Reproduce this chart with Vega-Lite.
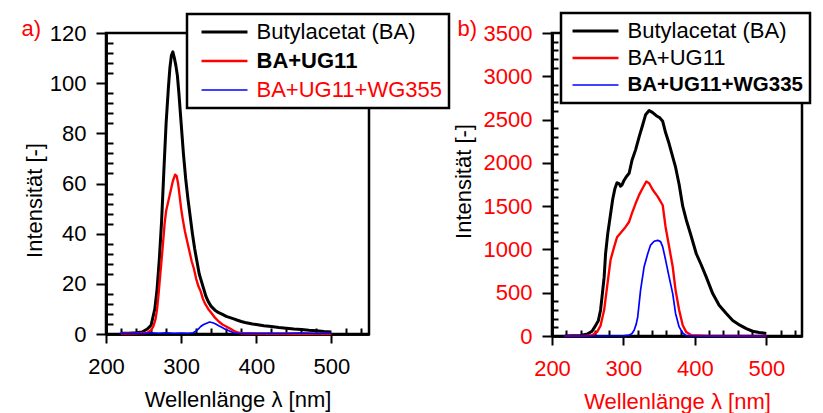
{
  "$schema": "https://vega.github.io/schema/vega-lite/v6.json",
  "padding": {"left": 19, "top": 10, "right": 0, "bottom": 0},
  "config": {
    "font": "Liberation Sans",
    "view": {"stroke": "black", "strokeWidth": 2.5},
    "axis": {
      "grid": false,
      "labelFlush": false,
      "labelOverlap": false,
      "domainColor": "black",
      "domainWidth": 2.5,
      "tickColor": "black",
      "tickWidth": 2,
      "labelFont": "Liberation Sans",
      "labelFontSize": 22,
      "labelColor": "black",
      "titleFont": "Liberation Sans",
      "titleFontSize": 22,
      "titleFontWeight": "normal",
      "titleColor": "black"
    },
    "legend": {
      "labelFont": "Liberation Sans",
      "labelFontSize": 22,
      "labelLimit": 400,
      "symbolType": "M-4,0H4",
      "symbolSize": 132,
      "symbolStrokeWidth": 1.5,
      "labelOffset": 21
    }
  },
  "datasets": {
    "a": [
      {"serie": "Butylacetat (BA)", "wl": 220, "I": 0.3},
      {"serie": "Butylacetat (BA)", "wl": 230, "I": 0.3},
      {"serie": "Butylacetat (BA)", "wl": 240, "I": 0.5},
      {"serie": "Butylacetat (BA)", "wl": 248, "I": 0.8},
      {"serie": "Butylacetat (BA)", "wl": 255, "I": 2},
      {"serie": "Butylacetat (BA)", "wl": 260, "I": 3.5},
      {"serie": "Butylacetat (BA)", "wl": 265, "I": 10},
      {"serie": "Butylacetat (BA)", "wl": 268, "I": 18},
      {"serie": "Butylacetat (BA)", "wl": 271, "I": 30},
      {"serie": "Butylacetat (BA)", "wl": 274, "I": 45},
      {"serie": "Butylacetat (BA)", "wl": 277, "I": 65},
      {"serie": "Butylacetat (BA)", "wl": 280, "I": 84},
      {"serie": "Butylacetat (BA)", "wl": 283, "I": 98},
      {"serie": "Butylacetat (BA)", "wl": 285, "I": 106},
      {"serie": "Butylacetat (BA)", "wl": 287, "I": 111},
      {"serie": "Butylacetat (BA)", "wl": 289, "I": 112.5},
      {"serie": "Butylacetat (BA)", "wl": 291, "I": 110},
      {"serie": "Butylacetat (BA)", "wl": 293, "I": 107},
      {"serie": "Butylacetat (BA)", "wl": 295, "I": 103},
      {"serie": "Butylacetat (BA)", "wl": 297, "I": 96},
      {"serie": "Butylacetat (BA)", "wl": 299, "I": 88},
      {"serie": "Butylacetat (BA)", "wl": 301, "I": 80},
      {"serie": "Butylacetat (BA)", "wl": 303, "I": 72},
      {"serie": "Butylacetat (BA)", "wl": 306, "I": 62},
      {"serie": "Butylacetat (BA)", "wl": 309, "I": 54},
      {"serie": "Butylacetat (BA)", "wl": 312, "I": 47},
      {"serie": "Butylacetat (BA)", "wl": 315, "I": 40},
      {"serie": "Butylacetat (BA)", "wl": 318, "I": 34},
      {"serie": "Butylacetat (BA)", "wl": 321, "I": 29},
      {"serie": "Butylacetat (BA)", "wl": 324, "I": 24},
      {"serie": "Butylacetat (BA)", "wl": 327, "I": 21},
      {"serie": "Butylacetat (BA)", "wl": 330, "I": 18},
      {"serie": "Butylacetat (BA)", "wl": 333, "I": 15},
      {"serie": "Butylacetat (BA)", "wl": 336, "I": 13},
      {"serie": "Butylacetat (BA)", "wl": 340, "I": 11},
      {"serie": "Butylacetat (BA)", "wl": 345, "I": 9.5},
      {"serie": "Butylacetat (BA)", "wl": 350, "I": 8.5},
      {"serie": "Butylacetat (BA)", "wl": 355, "I": 7.8},
      {"serie": "Butylacetat (BA)", "wl": 360, "I": 7},
      {"serie": "Butylacetat (BA)", "wl": 365, "I": 6.5},
      {"serie": "Butylacetat (BA)", "wl": 370, "I": 6},
      {"serie": "Butylacetat (BA)", "wl": 375, "I": 5.5},
      {"serie": "Butylacetat (BA)", "wl": 380, "I": 5},
      {"serie": "Butylacetat (BA)", "wl": 385, "I": 4.6},
      {"serie": "Butylacetat (BA)", "wl": 390, "I": 4.3},
      {"serie": "Butylacetat (BA)", "wl": 395, "I": 4},
      {"serie": "Butylacetat (BA)", "wl": 400, "I": 3.8},
      {"serie": "Butylacetat (BA)", "wl": 410, "I": 3.3},
      {"serie": "Butylacetat (BA)", "wl": 420, "I": 3},
      {"serie": "Butylacetat (BA)", "wl": 430, "I": 2.6},
      {"serie": "Butylacetat (BA)", "wl": 440, "I": 2.3},
      {"serie": "Butylacetat (BA)", "wl": 450, "I": 2},
      {"serie": "Butylacetat (BA)", "wl": 460, "I": 1.8},
      {"serie": "Butylacetat (BA)", "wl": 470, "I": 1.5},
      {"serie": "Butylacetat (BA)", "wl": 480, "I": 1.3},
      {"serie": "Butylacetat (BA)", "wl": 490, "I": 1},
      {"serie": "Butylacetat (BA)", "wl": 500, "I": 0.8},
      {"serie": "BA+UG11", "wl": 220, "I": 0.2},
      {"serie": "BA+UG11", "wl": 240, "I": 0.3},
      {"serie": "BA+UG11", "wl": 255, "I": 0.5},
      {"serie": "BA+UG11", "wl": 260, "I": 1.5},
      {"serie": "BA+UG11", "wl": 263, "I": 3},
      {"serie": "BA+UG11", "wl": 266, "I": 6},
      {"serie": "BA+UG11", "wl": 268, "I": 10},
      {"serie": "BA+UG11", "wl": 270, "I": 16},
      {"serie": "BA+UG11", "wl": 272, "I": 23},
      {"serie": "BA+UG11", "wl": 275, "I": 33},
      {"serie": "BA+UG11", "wl": 278, "I": 44},
      {"serie": "BA+UG11", "wl": 280, "I": 49},
      {"serie": "BA+UG11", "wl": 283, "I": 53},
      {"serie": "BA+UG11", "wl": 286, "I": 57},
      {"serie": "BA+UG11", "wl": 289, "I": 61},
      {"serie": "BA+UG11", "wl": 292, "I": 63.5},
      {"serie": "BA+UG11", "wl": 294, "I": 63},
      {"serie": "BA+UG11", "wl": 296, "I": 60},
      {"serie": "BA+UG11", "wl": 298, "I": 55},
      {"serie": "BA+UG11", "wl": 300, "I": 50},
      {"serie": "BA+UG11", "wl": 302, "I": 46},
      {"serie": "BA+UG11", "wl": 305, "I": 41},
      {"serie": "BA+UG11", "wl": 308, "I": 37},
      {"serie": "BA+UG11", "wl": 311, "I": 33},
      {"serie": "BA+UG11", "wl": 314, "I": 29},
      {"serie": "BA+UG11", "wl": 317, "I": 26},
      {"serie": "BA+UG11", "wl": 320, "I": 22},
      {"serie": "BA+UG11", "wl": 323, "I": 19},
      {"serie": "BA+UG11", "wl": 326, "I": 17},
      {"serie": "BA+UG11", "wl": 329, "I": 14},
      {"serie": "BA+UG11", "wl": 332, "I": 12},
      {"serie": "BA+UG11", "wl": 336, "I": 10},
      {"serie": "BA+UG11", "wl": 340, "I": 8.5},
      {"serie": "BA+UG11", "wl": 345, "I": 6.5},
      {"serie": "BA+UG11", "wl": 350, "I": 5},
      {"serie": "BA+UG11", "wl": 355, "I": 3.8},
      {"serie": "BA+UG11", "wl": 360, "I": 3},
      {"serie": "BA+UG11", "wl": 365, "I": 2.2},
      {"serie": "BA+UG11", "wl": 370, "I": 1.3},
      {"serie": "BA+UG11", "wl": 375, "I": 0.6},
      {"serie": "BA+UG11", "wl": 380, "I": 0.3},
      {"serie": "BA+UG11", "wl": 390, "I": 0.2},
      {"serie": "BA+UG11", "wl": 400, "I": 0.2},
      {"serie": "BA+UG11", "wl": 420, "I": 0.1},
      {"serie": "BA+UG11", "wl": 450, "I": 0.2},
      {"serie": "BA+UG11", "wl": 480, "I": 0.1},
      {"serie": "BA+UG11", "wl": 500, "I": 0.1},
      {"serie": "BA+UG11+WG355", "wl": 218, "I": 0.3},
      {"serie": "BA+UG11+WG355", "wl": 230, "I": 0.2},
      {"serie": "BA+UG11+WG355", "wl": 240, "I": 0.4},
      {"serie": "BA+UG11+WG355", "wl": 250, "I": 0.2},
      {"serie": "BA+UG11+WG355", "wl": 260, "I": 0.5},
      {"serie": "BA+UG11+WG355", "wl": 270, "I": 0.3},
      {"serie": "BA+UG11+WG355", "wl": 280, "I": 0.5},
      {"serie": "BA+UG11+WG355", "wl": 290, "I": 0.3},
      {"serie": "BA+UG11+WG355", "wl": 300, "I": 0.4},
      {"serie": "BA+UG11+WG355", "wl": 310, "I": 0.3},
      {"serie": "BA+UG11+WG355", "wl": 316, "I": 0.5},
      {"serie": "BA+UG11+WG355", "wl": 320, "I": 1.2},
      {"serie": "BA+UG11+WG355", "wl": 323, "I": 2},
      {"serie": "BA+UG11+WG355", "wl": 326, "I": 3},
      {"serie": "BA+UG11+WG355", "wl": 330, "I": 3.8},
      {"serie": "BA+UG11+WG355", "wl": 334, "I": 4.3},
      {"serie": "BA+UG11+WG355", "wl": 338, "I": 4.8},
      {"serie": "BA+UG11+WG355", "wl": 342, "I": 4.5},
      {"serie": "BA+UG11+WG355", "wl": 346, "I": 4},
      {"serie": "BA+UG11+WG355", "wl": 350, "I": 3.3},
      {"serie": "BA+UG11+WG355", "wl": 354, "I": 2.7},
      {"serie": "BA+UG11+WG355", "wl": 358, "I": 2},
      {"serie": "BA+UG11+WG355", "wl": 362, "I": 1.5},
      {"serie": "BA+UG11+WG355", "wl": 366, "I": 1},
      {"serie": "BA+UG11+WG355", "wl": 370, "I": 0.5},
      {"serie": "BA+UG11+WG355", "wl": 375, "I": 0.3},
      {"serie": "BA+UG11+WG355", "wl": 380, "I": 0.2},
      {"serie": "BA+UG11+WG355", "wl": 390, "I": 0.3},
      {"serie": "BA+UG11+WG355", "wl": 400, "I": 0.2},
      {"serie": "BA+UG11+WG355", "wl": 420, "I": 0.3},
      {"serie": "BA+UG11+WG355", "wl": 440, "I": 0.2},
      {"serie": "BA+UG11+WG355", "wl": 460, "I": 0.4},
      {"serie": "BA+UG11+WG355", "wl": 480, "I": 0.2},
      {"serie": "BA+UG11+WG355", "wl": 500, "I": 0.3}
    ],
    "b": [
      {"serie": "Butylacetat (BA)", "wl": 218, "I": 0},
      {"serie": "Butylacetat (BA)", "wl": 240, "I": 5},
      {"serie": "Butylacetat (BA)", "wl": 250, "I": 25},
      {"serie": "Butylacetat (BA)", "wl": 256, "I": 55},
      {"serie": "Butylacetat (BA)", "wl": 261, "I": 120},
      {"serie": "Butylacetat (BA)", "wl": 265, "I": 180},
      {"serie": "Butylacetat (BA)", "wl": 268, "I": 300},
      {"serie": "Butylacetat (BA)", "wl": 270, "I": 450},
      {"serie": "Butylacetat (BA)", "wl": 273, "I": 680},
      {"serie": "Butylacetat (BA)", "wl": 275, "I": 950},
      {"serie": "Butylacetat (BA)", "wl": 278, "I": 1180},
      {"serie": "Butylacetat (BA)", "wl": 282, "I": 1410},
      {"serie": "Butylacetat (BA)", "wl": 285, "I": 1580},
      {"serie": "Butylacetat (BA)", "wl": 288, "I": 1700},
      {"serie": "Butylacetat (BA)", "wl": 291, "I": 1770},
      {"serie": "Butylacetat (BA)", "wl": 294, "I": 1760},
      {"serie": "Butylacetat (BA)", "wl": 296, "I": 1730},
      {"serie": "Butylacetat (BA)", "wl": 298, "I": 1745},
      {"serie": "Butylacetat (BA)", "wl": 301, "I": 1800},
      {"serie": "Butylacetat (BA)", "wl": 304, "I": 1840},
      {"serie": "Butylacetat (BA)", "wl": 308, "I": 1880},
      {"serie": "Butylacetat (BA)", "wl": 312, "I": 2030},
      {"serie": "Butylacetat (BA)", "wl": 317, "I": 2150},
      {"serie": "Butylacetat (BA)", "wl": 322, "I": 2300},
      {"serie": "Butylacetat (BA)", "wl": 327, "I": 2440},
      {"serie": "Butylacetat (BA)", "wl": 331, "I": 2555},
      {"serie": "Butylacetat (BA)", "wl": 336, "I": 2605},
      {"serie": "Butylacetat (BA)", "wl": 341, "I": 2580},
      {"serie": "Butylacetat (BA)", "wl": 346, "I": 2545},
      {"serie": "Butylacetat (BA)", "wl": 351, "I": 2520},
      {"serie": "Butylacetat (BA)", "wl": 355, "I": 2480},
      {"serie": "Butylacetat (BA)", "wl": 359, "I": 2350},
      {"serie": "Butylacetat (BA)", "wl": 364, "I": 2220},
      {"serie": "Butylacetat (BA)", "wl": 369, "I": 2070},
      {"serie": "Butylacetat (BA)", "wl": 373, "I": 1950},
      {"serie": "Butylacetat (BA)", "wl": 378, "I": 1750},
      {"serie": "Butylacetat (BA)", "wl": 383, "I": 1500},
      {"serie": "Butylacetat (BA)", "wl": 388, "I": 1340},
      {"serie": "Butylacetat (BA)", "wl": 395, "I": 1150},
      {"serie": "Butylacetat (BA)", "wl": 402, "I": 950},
      {"serie": "Butylacetat (BA)", "wl": 409, "I": 820},
      {"serie": "Butylacetat (BA)", "wl": 416, "I": 680},
      {"serie": "Butylacetat (BA)", "wl": 425, "I": 490},
      {"serie": "Butylacetat (BA)", "wl": 434, "I": 355},
      {"serie": "Butylacetat (BA)", "wl": 444, "I": 260},
      {"serie": "Butylacetat (BA)", "wl": 453, "I": 180},
      {"serie": "Butylacetat (BA)", "wl": 463, "I": 125},
      {"serie": "Butylacetat (BA)", "wl": 472, "I": 85},
      {"serie": "Butylacetat (BA)", "wl": 481, "I": 55},
      {"serie": "Butylacetat (BA)", "wl": 490, "I": 40},
      {"serie": "Butylacetat (BA)", "wl": 500, "I": 30},
      {"serie": "BA+UG11", "wl": 218, "I": 0},
      {"serie": "BA+UG11", "wl": 245, "I": 2},
      {"serie": "BA+UG11", "wl": 256, "I": 10},
      {"serie": "BA+UG11", "wl": 263, "I": 45},
      {"serie": "BA+UG11", "wl": 268, "I": 120},
      {"serie": "BA+UG11", "wl": 273, "I": 300},
      {"serie": "BA+UG11", "wl": 277, "I": 560},
      {"serie": "BA+UG11", "wl": 282, "I": 880},
      {"serie": "BA+UG11", "wl": 287, "I": 1030},
      {"serie": "BA+UG11", "wl": 291, "I": 1140},
      {"serie": "BA+UG11", "wl": 296, "I": 1190},
      {"serie": "BA+UG11", "wl": 303, "I": 1260},
      {"serie": "BA+UG11", "wl": 308, "I": 1320},
      {"serie": "BA+UG11", "wl": 312, "I": 1420},
      {"serie": "BA+UG11", "wl": 317, "I": 1530},
      {"serie": "BA+UG11", "wl": 322, "I": 1630},
      {"serie": "BA+UG11", "wl": 327, "I": 1710},
      {"serie": "BA+UG11", "wl": 332, "I": 1785},
      {"serie": "BA+UG11", "wl": 336, "I": 1765},
      {"serie": "BA+UG11", "wl": 341, "I": 1690},
      {"serie": "BA+UG11", "wl": 348, "I": 1610},
      {"serie": "BA+UG11", "wl": 355, "I": 1510},
      {"serie": "BA+UG11", "wl": 359, "I": 1260},
      {"serie": "BA+UG11", "wl": 364, "I": 1030},
      {"serie": "BA+UG11", "wl": 369, "I": 800},
      {"serie": "BA+UG11", "wl": 373, "I": 530},
      {"serie": "BA+UG11", "wl": 378, "I": 300},
      {"serie": "BA+UG11", "wl": 383, "I": 125},
      {"serie": "BA+UG11", "wl": 388, "I": 45},
      {"serie": "BA+UG11", "wl": 395, "I": 10},
      {"serie": "BA+UG11", "wl": 420, "I": 2},
      {"serie": "BA+UG11", "wl": 500, "I": 0},
      {"serie": "BA+UG11+WG335", "wl": 216, "I": 0},
      {"serie": "BA+UG11+WG335", "wl": 250, "I": 0},
      {"serie": "BA+UG11+WG335", "wl": 300, "I": 3},
      {"serie": "BA+UG11+WG335", "wl": 308, "I": 10},
      {"serie": "BA+UG11+WG335", "wl": 312, "I": 30},
      {"serie": "BA+UG11+WG335", "wl": 315, "I": 66},
      {"serie": "BA+UG11+WG335", "wl": 318, "I": 140},
      {"serie": "BA+UG11+WG335", "wl": 320, "I": 220},
      {"serie": "BA+UG11+WG335", "wl": 324, "I": 530},
      {"serie": "BA+UG11+WG335", "wl": 329, "I": 800},
      {"serie": "BA+UG11+WG335", "wl": 334, "I": 950},
      {"serie": "BA+UG11+WG335", "wl": 338, "I": 1050},
      {"serie": "BA+UG11+WG335", "wl": 343, "I": 1095},
      {"serie": "BA+UG11+WG335", "wl": 348, "I": 1105},
      {"serie": "BA+UG11+WG335", "wl": 352, "I": 1090},
      {"serie": "BA+UG11+WG335", "wl": 355, "I": 1030},
      {"serie": "BA+UG11+WG335", "wl": 359, "I": 880},
      {"serie": "BA+UG11+WG335", "wl": 364, "I": 680},
      {"serie": "BA+UG11+WG335", "wl": 369, "I": 490},
      {"serie": "BA+UG11+WG335", "wl": 373, "I": 260},
      {"serie": "BA+UG11+WG335", "wl": 378, "I": 105},
      {"serie": "BA+UG11+WG335", "wl": 383, "I": 35},
      {"serie": "BA+UG11+WG335", "wl": 388, "I": 5},
      {"serie": "BA+UG11+WG335", "wl": 400, "I": 0},
      {"serie": "BA+UG11+WG335", "wl": 450, "I": 0},
      {"serie": "BA+UG11+WG335", "wl": 500, "I": 0}
    ]
  },
  "bounds": "flush",
  "spacing": 183,
  "resolve": {
    "scale": {"color": "independent", "strokeWidth": "independent"},
    "legend": {"color": "independent"}
  },
  "hconcat": [
    {
      "width": 263,
      "height": 301,
      "data": {"name": "a"},
      "resolve": {"axis": {"x": "independent", "y": "independent"}},
      "layer": [
        {
          "mark": {"type": "line", "strokeJoin": "round"},
          "encoding": {
            "x": {"field": "wl", "type": "quantitative", "scale": {"domain": [200, 550], "nice": false},
              "axis": {"orient": "bottom", "values": [200, 300, 400, 500], "tickSize": 9, "labelPadding": 13.5, "title": "Wellenlänge λ [nm]", "titlePadding": 11.5}},
            "y": {"field": "I", "type": "quantitative", "scale": {"domain": [0, 120], "nice": false},
              "axis": {"orient": "left", "values": [0, 20, 40, 60, 80, 100, 120], "tickSize": 10, "labelPadding": 10, "title": "Intensität [-]", "titlePadding": 3, "titleY": 167}},
            "color": {"field": "serie", "type": "nominal",
              "scale": {"domain": ["Butylacetat (BA)", "BA+UG11", "BA+UG11+WG355"], "range": ["black", "red", "blue"]},
              "legend": {"orient": "none", "legendX": 81, "legendY": -19, "title": null, "padding": 7, "rowPadding": 7, "symbolOffset": 19.5,
                "encode": {
                  "legend": {"update": {"stroke": {"value": "black"}, "strokeWidth": {"value": 2.5}, "fill": {"value": "white"}}},
                  "symbols": {"update": {"strokeWidth": {"signal": "datum.value === 'Butylacetat (BA)' ? 3 : 1.7"}}},
                  "labels": {"update": {
                    "fill": {"signal": "datum.value === 'BA+UG11+WG355' ? 'red' : 'black'"},
                    "fontWeight": {"signal": "datum.value === 'BA+UG11' ? 'bold' : 'normal'"}}}
                }}},
            "strokeWidth": {"field": "serie", "type": "nominal",
              "scale": {"domain": ["Butylacetat (BA)", "BA+UG11", "BA+UG11+WG355"], "range": [3, 1.7, 1.7]}, "legend": null}
          }
        },
        {
          "mark": {"type": "line", "opacity": 0},
          "encoding": {
            "x": {"field": "wl", "type": "quantitative", "scale": {"domain": [200, 550], "nice": false},
              "axis": {"orient": "bottom", "values": [220, 240, 260, 280, 320, 340, 360, 380, 420, 440, 460, 480, 520, 540], "tickSize": -6, "labels": false, "title": null}},
            "y": {"field": "I", "type": "quantitative", "scale": {"domain": [0, 120], "nice": false},
              "axis": {"orient": "left", "values": [4, 8, 12, 16, 24, 28, 32, 36, 44, 48, 52, 56, 64, 68, 72, 76, 84, 88, 92, 96, 104, 108, 112, 116], "tickSize": -7, "labels": false,
                "title": "a)", "titleColor": "red", "titleAngle": 0, "titleAlign": "left", "titleBaseline": "alphabetic", "titleX": -85, "titleY": 2}},
            "detail": {"field": "serie"}
          }
        }
      ]
    },
    {
      "width": 250,
      "height": 303,
      "data": {"name": "b"},
      "resolve": {"axis": {"x": "independent", "y": "independent"}},
      "layer": [
        {
          "mark": {"type": "line", "strokeJoin": "round"},
          "encoding": {
            "x": {"field": "wl", "type": "quantitative", "scale": {"domain": [200, 550], "nice": false},
              "axis": {"orient": "bottom", "values": [200, 300, 400, 500], "tickSize": 9, "labelPadding": 13.5, "labelColor": "red", "title": "Wellenlänge λ [nm]", "titleColor": "red", "titlePadding": 11.5}},
            "y": {"field": "I", "type": "quantitative", "scale": {"domain": [0, 3500], "nice": false},
              "axis": {"orient": "left", "values": [0, 500, 1000, 1500, 2000, 2500, 3000, 3500], "format": "d", "tickSize": 10, "labelPadding": 10, "labelColor": "red", "title": "Intensität [-]", "titlePadding": 8, "titleY": 148}},
            "color": {"field": "serie", "type": "nominal",
              "scale": {"domain": ["Butylacetat (BA)", "BA+UG11", "BA+UG11+WG335"], "range": ["black", "red", "blue"]},
              "legend": {"orient": "none", "legendX": 9, "legendY": -20, "title": null, "padding": 7, "rowPadding": 5, "symbolOffset": 16.5,
                "encode": {
                  "legend": {"update": {"stroke": {"value": "black"}, "strokeWidth": {"value": 2.5}, "fill": {"value": "white"}}},
                  "symbols": {"update": {"strokeWidth": {"signal": "datum.value === 'Butylacetat (BA)' ? 3 : 1.7"}}},
                  "labels": {"update": {
                    "fill": {"value": "black"},
                    "fontWeight": {"signal": "datum.value === 'BA+UG11+WG335' ? 'bold' : 'normal'"},
                    "fontSize": {"signal": "datum.value === 'BA+UG11+WG335' ? 20.5 : 22"}}}
                }}},
            "strokeWidth": {"field": "serie", "type": "nominal",
              "scale": {"domain": ["Butylacetat (BA)", "BA+UG11", "BA+UG11+WG335"], "range": [3, 1.7, 2.2]}, "legend": null}
          }
        },
        {
          "mark": {"type": "line", "opacity": 0},
          "encoding": {
            "x": {"field": "wl", "type": "quantitative", "scale": {"domain": [200, 550], "nice": false},
              "axis": {"orient": "bottom", "values": [220, 240, 260, 280, 320, 340, 360, 380, 420, 440, 460, 480, 520, 540], "tickSize": -6, "labels": false, "title": null}},
            "y": {"field": "I", "type": "quantitative", "scale": {"domain": [0, 3500], "nice": false},
              "axis": {"orient": "left", "values": [100, 200, 300, 400, 600, 700, 800, 900, 1100, 1200, 1300, 1400, 1600, 1700, 1800, 1900, 2100, 2200, 2300, 2400, 2600, 2700, 2800, 2900, 3100, 3200, 3300, 3400], "tickSize": -6, "labels": false,
                "title": "b)", "titleColor": "red", "titleAngle": 0, "titleAlign": "left", "titleBaseline": "alphabetic", "titleX": -95, "titleY": 2}},
            "detail": {"field": "serie"}
          }
        }
      ]
    }
  ]
}
